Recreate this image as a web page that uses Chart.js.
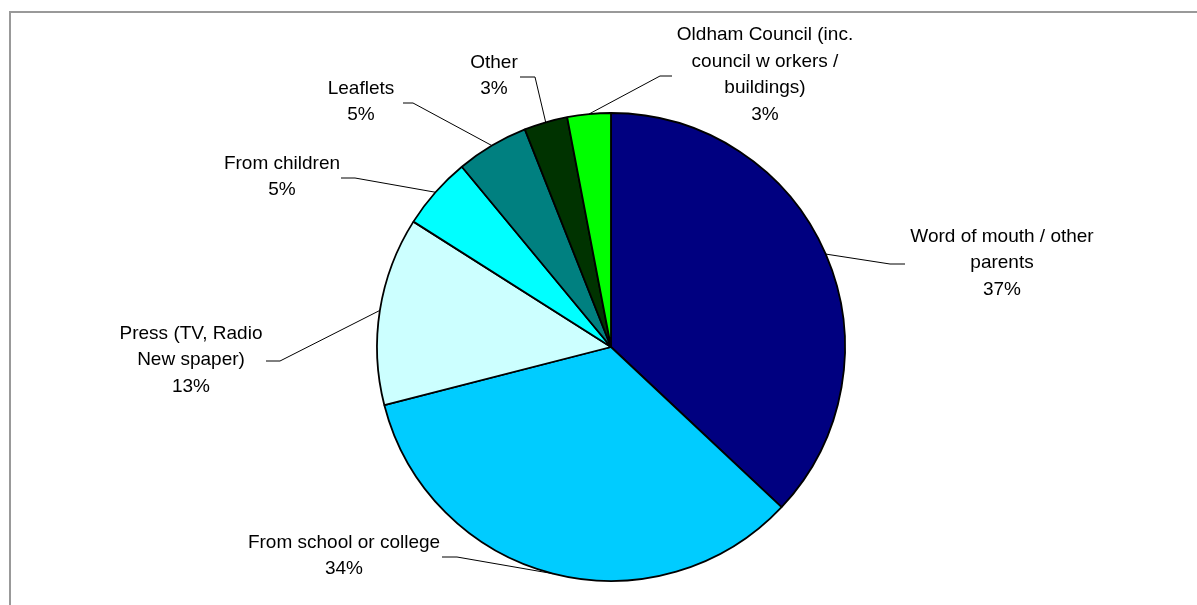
<!DOCTYPE html>
<html>
<head>
<meta charset="utf-8">
<title>How parents heard about the service</title>
<script src="https://cdn.jsdelivr.net/npm/chart.js@4.4.0/dist/chart.umd.min.js"></script>
<style>
  body { margin: 0; background: #fff; }
  #wrap { position: relative; width: 1197px; height: 605px; overflow: hidden; }
  #frame {
    position: absolute; left: 9px; top: 11px; width: 1400px; height: 800px;
    border-left: 2px solid #999; border-top: 2px solid #999;
  }
  #pieChart { position: absolute; left: 0; top: 0; }
</style>
</head>
<body>
<div id="wrap">
  <div id="frame"></div>
  <canvas id="pieChart" width="1197" height="605"></canvas>
</div>
<script>
// slices go clockwise from 12 o'clock
const sources = [
  'Word of mouth / other\nparents',
  'From school or college',
  'Press (TV, Radio\nNew spaper)',
  'From children',
  'Leaflets',
  'Other',
  'Oldham Council (inc.\ncouncil w orkers /\nbuildings)'
]
const percents = [37, 34, 13, 5, 5, 3, 3]
const sliceColours = ['#000080', '#00ccff', '#ccffff', '#00ffff', '#008080', '#003300', '#00ff00']

// where each label sits, relative to the pie centre:
// text block centre (tx, ty), leader elbow (ex, ey) and the end of its short flat run (fx)
const labelSpots = [
  { tx: 391, ty: -84, ex: 279, ey: -83, fx: 294 },
  { tx: -267, ty: 209, ex: -154, ey: 210, fx: -169 },
  { tx: -420, ty: 13, ex: -331, ey: 14, fx: -345 },
  { tx: -329, ty: -170, ex: -256, ey: -169, fx: -270 },
  { tx: -250, ty: -245, ex: -198, ey: -244, fx: -208 },
  { tx: -117, ty: -271, ex: -76, ey: -270, fx: -91 },
  { tx: 154, ty: -272, ex: 49, ey: -271, fx: 61 }
]

const lineHeight = 26.5

const leaderLabels = {
  id: 'leaderLabels',
  afterDatasetsDraw(chart) {
    const ctx = chart.ctx
    const arcs = chart.getDatasetMeta(0).data
    ctx.save()
    ctx.font = '19px "Liberation Sans", Arial, sans-serif'
    ctx.fillStyle = '#000'
    ctx.strokeStyle = '#000'
    ctx.lineWidth = 1
    ctx.textAlign = 'center'
    ctx.textBaseline = 'middle'
    arcs.forEach((arc, i) => {
      const { x, y, startAngle, endAngle, outerRadius } = arc.getProps(['x', 'y', 'startAngle', 'endAngle', 'outerRadius'], true)
      const mid = (startAngle + endAngle) / 2
      const spot = labelSpots[i]
      ctx.beginPath()
      ctx.moveTo(x + Math.cos(mid) * outerRadius, y + Math.sin(mid) * outerRadius)
      ctx.lineTo(x + spot.ex, y + spot.ey)
      ctx.lineTo(x + spot.fx, y + spot.ey)
      ctx.stroke()

      const lines = sources[i].split('\n').concat([percents[i] + '%'])
      const top = y + spot.ty - (lines.length - 1) * lineHeight / 2
      lines.forEach((line, j) => {
        ctx.fillText(line, x + spot.tx, top + j * lineHeight)
      })
    })
    ctx.restore()
  }
}

const ctx = document.getElementById('pieChart').getContext('2d')
const pieChart = new Chart(ctx, {
  type: 'pie',
  data: {
    labels: sources,
    datasets: [{
      data: percents,
      backgroundColor: sliceColours,
      borderColor: '#000',
      borderWidth: 1.8,
      radius: 234
    }]
  },
  options: {
    responsive: false,
    animation: false,
    layout: { padding: { left: 25, top: 89, right: 0, bottom: 0 } },
    plugins: {
      legend: { display: false },
      tooltip: { enabled: false }
    }
  },
  plugins: [leaderLabels]
})
</script>
</body>
</html>
